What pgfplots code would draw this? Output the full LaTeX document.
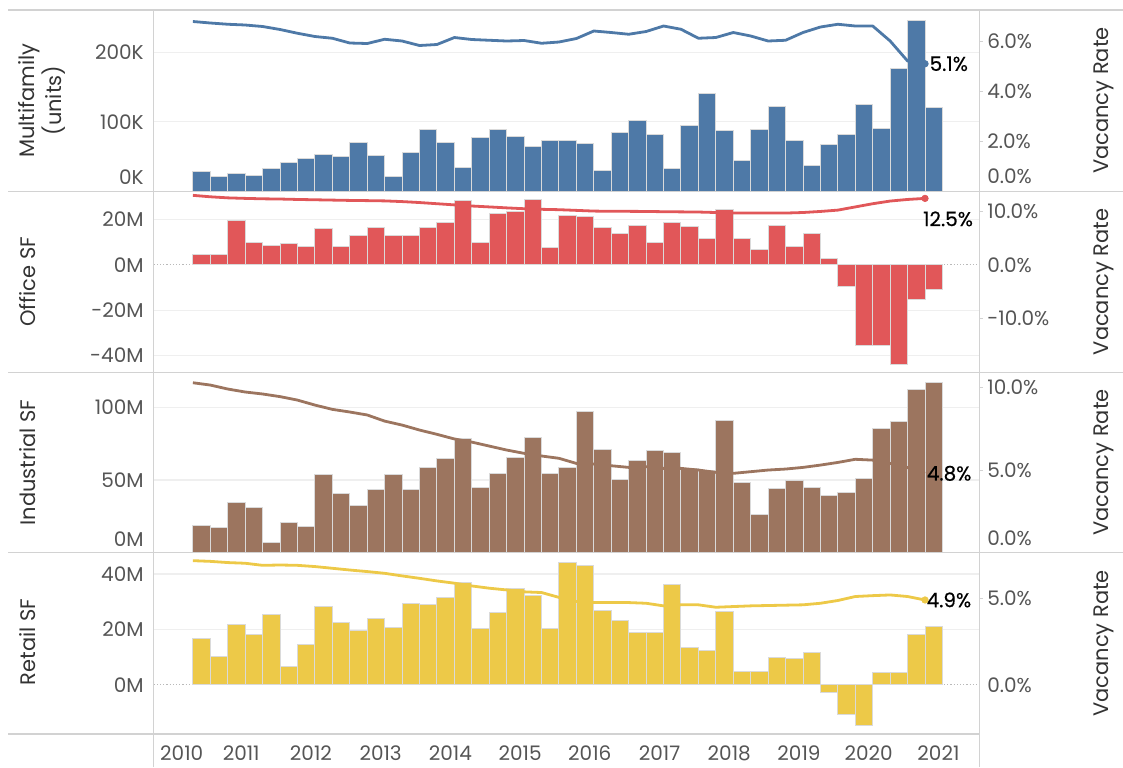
\documentclass[border=0pt]{standalone}
\usepackage{fontspec}
\setmainfont{Poppins}
\newfontfamily\vfont[FakeBold=0.4]{Poppins}
\usepackage{pgfplots}
\usepackage{pgfplotstable}
\pgfplotsset{compat=1.18}
\definecolor{mfblue}{HTML}{4E79A7}
\definecolor{offred}{HTML}{E15759}
\definecolor{indbrown}{HTML}{9C755F}
\definecolor{retyellow}{HTML}{EDC948}
\definecolor{sepc}{HTML}{D2D2D2}
\definecolor{gridc}{HTML}{EFEFEF}
\definecolor{ticklab}{HTML}{555555}
\definecolor{titlec}{HTML}{333333}
\definecolor{barline}{HTML}{DADADA}

\pgfplotstableread{
t bar vac
0 28.0 6.79
1 21.3 6.73
2 25.0 6.68
3 23.2 6.65
4 32.8 6.59
5 41.0 6.47
6 47.7 6.32
7 53.0 6.19
8 49.6 6.12
9 70.8 5.93
10 51.5 5.91
11 21.8 6.08
12 56.4 6.01
13 88.5 5.83
14 70.8 5.87
15 34.7 6.15
16 77.5 6.07
17 88.5 6.04
18 79.0 6.01
19 64.5 6.03
20 72.7 5.92
21 72.7 5.97
22 68.9 6.11
23 29.4 6.41
24 85.1 6.35
25 101.5 6.28
26 82.3 6.39
27 32.8 6.61
28 95.3 6.48
29 140.4 6.12
30 87.1 6.15
31 44.4 6.35
32 88.5 6.21
33 122.6 6.01
34 73.6 6.04
35 36.7 6.35
36 67.4 6.57
37 82.3 6.68
38 124.5 6.61
39 90.4 6.61
40 176.9 6.01
41 246.6 5.21
42 120.7 5.10
}\mf

\pgfplotstableread{
t bar vac
0 4.7 13.07
1 4.7 12.80
2 19.4 12.60
3 9.9 12.50
4 8.7 12.42
5 9.3 12.38
6 8.2 12.30
7 15.9 12.24
8 8.2 12.18
9 13.2 12.12
10 16.3 12.08
11 12.8 12.03
12 13.2 11.90
13 16.3 11.72
14 18.7 11.50
15 28.4 11.28
16 9.7 11.07
17 22.8 10.90
18 23.8 10.72
19 28.8 10.56
20 7.8 10.45
21 21.8 10.38
22 21.2 10.25
23 16.6 10.12
24 13.7 10.07
25 17.4 10.07
26 9.7 10.05
27 18.7 10.00
28 16.8 9.97
29 11.8 9.94
30 24.3 9.85
31 11.8 9.75
32 6.6 9.75
33 17.2 9.75
34 8.2 9.75
35 13.7 9.85
36 2.8 10.05
37 -9.4 10.30
38 -35.4 10.90
39 -35.4 11.50
40 -43.8 12.00
41 -15.4 12.30
42 -10.7 12.50
}\office

\pgfplotstableread{
t bar vac
0 19.0 10.28
1 17.4 10.14
2 34.6 9.90
3 31.0 9.72
4 7.3 9.60
5 20.6 9.44
6 18.3 9.23
7 54.1 8.93
8 40.8 8.67
9 32.3 8.51
10 43.3 8.33
11 54.1 7.96
12 43.3 7.72
13 58.9 7.42
14 65.1 7.16
15 78.2 6.88
16 45.0 6.69
17 54.8 6.45
18 65.8 6.21
19 79.1 6.01
20 54.8 5.85
21 58.7 5.71
22 97.0 5.40
23 71.3 5.36
24 50.5 5.26
25 63.5 5.16
26 70.0 5.20
27 69.0 5.10
28 57.8 5.10
29 56.4 5.00
30 90.8 4.86
31 48.6 4.80
32 26.6 4.90
33 44.0 5.00
34 49.5 5.06
35 45.0 5.16
36 39.2 5.30
37 41.5 5.46
38 51.1 5.65
39 85.3 5.60
40 89.9 5.40
41 112.4 5.15
42 117.2 4.80
}\indus

\pgfplotstableread{
t bar vac
0 16.7 7.17
1 10.1 7.13
2 21.6 7.06
3 18.0 7.02
4 25.2 6.90
5 6.5 6.92
6 14.7 6.90
7 28.1 6.83
8 22.5 6.73
9 19.6 6.63
10 24.1 6.54
11 20.8 6.44
12 29.4 6.29
13 28.9 6.15
14 31.5 6.00
15 37.1 5.87
16 20.3 5.71
17 26.2 5.58
18 34.7 5.48
19 32.3 5.37
20 20.3 5.33
21 44.3 5.05
22 43.2 4.81
23 26.9 4.75
24 23.3 4.75
25 18.7 4.75
26 18.7 4.71
27 36.3 4.56
28 13.5 4.62
29 12.3 4.62
30 26.5 4.48
31 4.7 4.52
32 4.7 4.56
33 9.8 4.58
34 9.5 4.60
35 11.8 4.62
36 -2.8 4.71
37 -10.9 4.87
38 -14.9 5.10
39 4.3 5.15
40 4.3 5.19
41 18.3 5.10
42 21.1 4.90
}\retail

\tikzset{vlab/.style={font=\vfont\fontsize{10}{12}\selectfont, text=black, inner sep=0pt}}
\pgfplotsset{
  panel/.style={
    scale only axis, width=412.9pt,
    xmin=-2.255, xmax=45.12,
    axis line style={draw=none},
    major tick length=0pt,
    tick style={draw=none},
    xtick=\empty,
    anchor=south west,
  },
  leftax/.style={
    panel,
    ymajorgrids, grid style={gridc, line width=0.6pt},
    yticklabel style={font=\fontsize{10}{12}\selectfont, text=ticklab, inner sep=0pt, anchor=east, xshift=-4.8pt},
  },
  rightax/.style={
    panel, clip=false,
    yticklabel pos=right,
    yticklabel style={font=\fontsize{10}{12}\selectfont, text=ticklab, inner sep=0pt, anchor=west, xshift=3.8pt},
  },
  bars/.style={ybar, bar shift=0pt, bar width=1, fill=#1, draw=barline, line width=0.5pt},
  vline/.style={#1, line width=1.4pt, line join=round},
}
\newcommand{\rtick}[1]{\draw[sepc, line width=0.5pt] (axis cs:45.12,#1) -- ([xshift=2pt]axis cs:45.12,#1);}

\begin{document}
\begin{tikzpicture}
\useasboundingbox (0,0) rectangle (561.5pt,383.5pt);

% ---------- Panel 1: Multifamily ----------
\begin{axis}[leftax, at={(76.8pt,287.85pt)}, height=90.65pt,
  ymin=0, ymax=261.2, ytick={100,200}, yticklabels={100K,200K},
  extra y ticks={0}, extra y tick labels={0K},
  extra y tick style={yticklabel style={yshift=7.3pt}}]
\addplot[bars=mfblue] table[x expr=\thisrow{t}+0.5, y=bar]{\mf};
\end{axis}
\begin{axis}[rightax, at={(76.8pt,287.85pt)}, height=90.65pt,
  ymin=0, ymax=7.25, ytick={2,4,6}, yticklabels={2.0\%,4.0\%,6.0\%},
  extra y ticks={0}, extra y tick labels={0.0\%},
  extra y tick style={yticklabel style={yshift=7.6pt}}]
\rtick{2}\rtick{4}\rtick{6}
\addplot[vline=mfblue] table[x=t, y=vac]{\mf};
\addplot[only marks, mark=*, mark size=1.6pt, color=mfblue] coordinates {(42,5.10)};
\node[vlab, anchor=west, xshift=2.1pt] at (axis cs:42,5.10) {5.1\%};
\end{axis}

% ---------- Panel 2: Office ----------
\begin{axis}[leftax, at={(76.8pt,197.25pt)}, height=90.6pt,
  ymin=-47.5, ymax=32.5, ytick={-40,-20,20}, yticklabels={-40M,-20M,20M},
  extra y ticks={0}, extra y tick labels={0M},
  extra y tick style={major grid style={densely dotted, gray!55, line width=0.5pt}}]
\addplot[bars=offred] table[x expr=\thisrow{t}+0.5, y=bar]{\office};
\end{axis}
\begin{axis}[rightax, at={(76.8pt,197.25pt)}, height=90.6pt,
  ymin=-20.17, ymax=13.83, ytick={-10,0,10}, yticklabels={-10.0\%,0.0\%,10.0\%}]
\rtick{-10}\rtick{10}
\addplot[vline=offred] table[x=t, y=vac]{\office};
\addplot[only marks, mark=*, mark size=1.6pt, color=offred] coordinates {(42,12.50)};
\node[vlab] at ([xshift=11.5pt,yshift=-10.25pt]axis cs:42,12.50) {12.5\%};
\end{axis}

% ---------- Panel 3: Industrial ----------
\begin{axis}[leftax, at={(76.8pt,107.15pt)}, height=90.1pt,
  ymin=0, ymax=123.9, ytick={50,100}, yticklabels={50M,100M},
  extra y ticks={0}, extra y tick labels={0M},
  extra y tick style={yticklabel style={yshift=6.7pt}}]
\addplot[bars=indbrown] table[x expr=\thisrow{t}+0.5, y=bar]{\indus};
\end{axis}
\begin{axis}[rightax, at={(76.8pt,107.15pt)}, height=90.1pt,
  ymin=0, ymax=10.9, ytick={5,10}, yticklabels={5.0\%,10.0\%},
  extra y ticks={0}, extra y tick labels={0.0\%},
  extra y tick style={yticklabel style={yshift=7.2pt}}]
\rtick{5}\rtick{10}
\addplot[vline=indbrown] table[x=t, y=vac]{\indus};
\node[vlab, anchor=west, xshift=0.7pt] at (axis cs:42,4.80) {4.8\%};
\end{axis}

% ---------- Panel 4: Retail ----------
\begin{axis}[leftax, at={(76.8pt,16.5pt)}, height=90.65pt,
  ymin=-17.8, ymax=47.7, ytick={20,40}, yticklabels={20M,40M},
  extra y ticks={0}, extra y tick labels={0M},
  extra y tick style={major grid style={densely dotted, gray!55, line width=0.5pt}},
  xtick={-0.64,2.77,6.77,10.77,14.77,18.77,22.77,26.77,30.77,34.77,38.77,42.77},
  xticklabels={2010,2011,2012,2013,2014,2015,2016,2017,2018,2019,2020,2021},
  xticklabel style={font=\fontsize{10}{12}\selectfont, text=ticklab, inner sep=0pt, anchor=north, yshift=-5.6pt}]
\addplot[bars=retyellow] table[x expr=\thisrow{t}+0.5, y=bar]{\retail};
\end{axis}
\begin{axis}[rightax, at={(76.8pt,16.5pt)}, height=90.65pt,
  ymin=-2.84, ymax=7.63, ytick={0,5}, yticklabels={0.0\%,5.0\%}]
\rtick{5}
\addplot[vline=retyellow] table[x=t, y=vac]{\retail};
\addplot[only marks, mark=*, mark size=1.6pt, color=retyellow] coordinates {(42,4.90)};
\node[vlab, anchor=west, xshift=0.6pt] at (axis cs:42,4.90) {4.9\%};
\end{axis}

% ---------- frame lines ----------
\draw[sepc, line width=0.6pt] (4pt,378.5pt) -- (561.5pt,378.5pt);
\draw[sepc, line width=0.6pt] (4pt,287.85pt) -- (561.5pt,287.85pt);
\draw[sepc, line width=0.6pt] (4pt,197.25pt) -- (561.5pt,197.25pt);
\draw[sepc, line width=0.6pt] (4pt,107.15pt) -- (561.5pt,107.15pt);
\draw[sepc, line width=0.6pt] (4pt,16.5pt) -- (489.7pt,16.5pt);
\draw[sepc, line width=0.6pt] (76.8pt,0pt) -- (76.8pt,378.5pt);
\draw[sepc, line width=0.6pt] (489.7pt,0pt) -- (489.7pt,378.5pt);

% ---------- titles ----------
\node[rotate=90, align=center, font=\fontsize{10.5}{13.2}\selectfont, text=titlec] at (21pt,333.2pt) {Multifamily\\(units)};
\node[rotate=90, font=\fontsize{10.5}{13}\selectfont, text=titlec] at (13.9pt,242.55pt) {Office SF};
\node[rotate=90, font=\fontsize{10.5}{13}\selectfont, text=titlec] at (13.9pt,152.2pt) {Industrial SF};
\node[rotate=90, font=\fontsize{10.5}{13}\selectfont, text=titlec] at (13.9pt,62.6pt) {Retail SF};
\foreach \yy in {333.2,242.55,152.2,61.8}
  \node[rotate=90, font=\fontsize{10.5}{13}\selectfont, text=titlec] at (552pt,\yy pt) {Vacancy Rate};
\end{tikzpicture}
\end{document}
